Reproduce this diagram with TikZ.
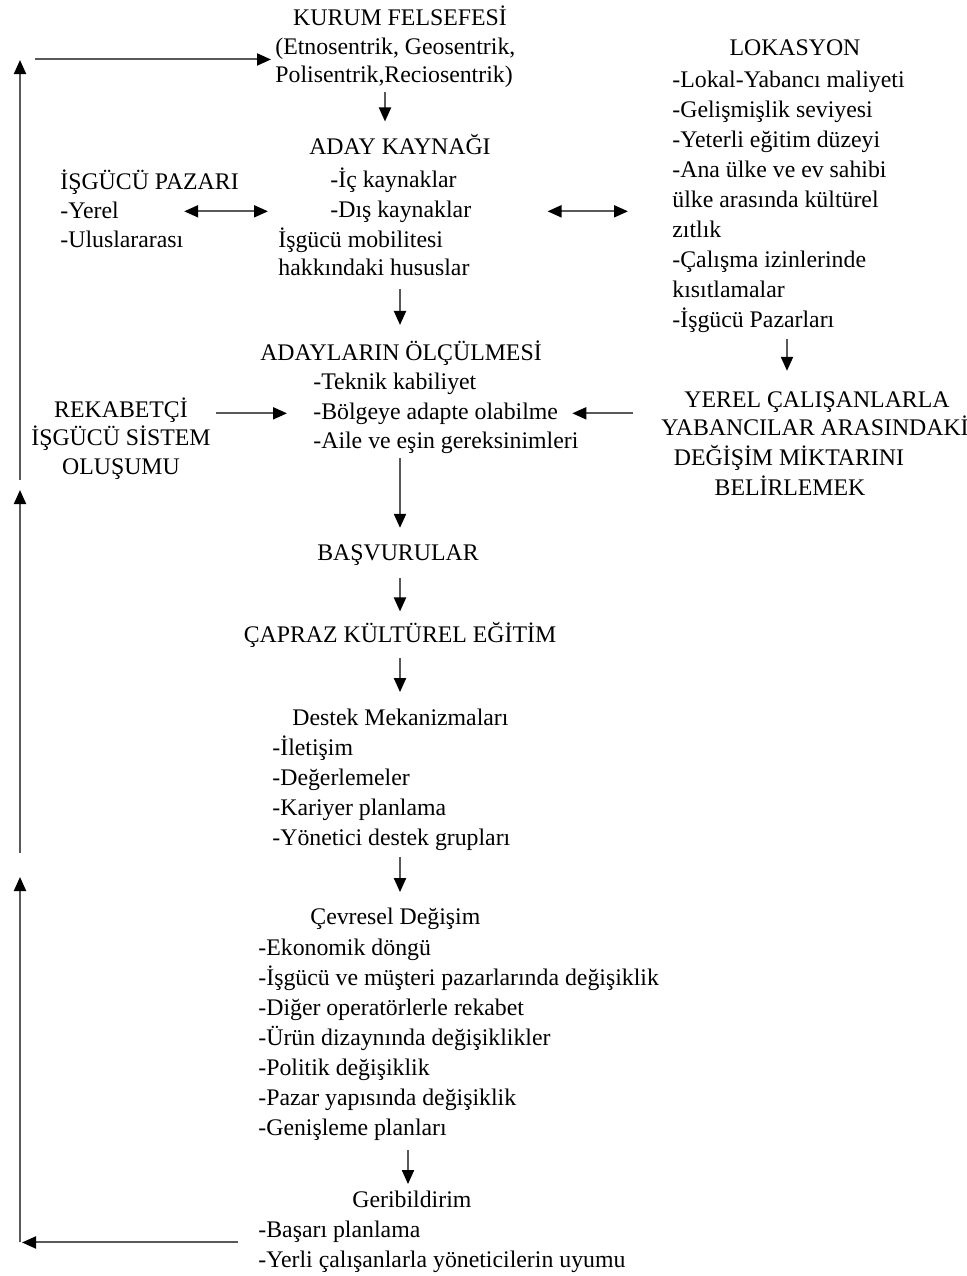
\documentclass[tikz,border=0pt]{standalone}
\usepackage{fontspec}
\setmainfont{Liberation Serif}
\usepackage{tikz}
\usetikzlibrary{arrows.meta}
\tikzset{>={Triangle[length=7pt,width=6pt,color=black]}}
\tikzstyle{txt}=[inner sep=0pt,anchor=base west]
\tikzstyle{ctxt}=[inner sep=0pt,anchor=base]
\tikzstyle{flow}=[->,draw=black!65,line width=1pt]
\tikzstyle{dflow}=[<->,draw=black!65,line width=1pt]

\begin{document}
\begin{tikzpicture}[x=0.5pt,y=-0.5pt,font=\fontsize{11.9pt}{15pt}\selectfont]

            \useasboundingbox (0,0) rectangle (967,1276);
            \coordinate (axisK) at (385,0); % arrow columns
            \coordinate (axis)  at (400,0);
            \coordinate (axisG) at (408,0);
            \coordinate (axisR) at (787,0);
            \coordinate (loopX) at (20,0); % feedback line

            % KURUM FELSEFESI
            \node[ctxt] (kf1) at (400,25) {KURUM FELSEFESİ};
            \node[txt]  (kf2) at (275,54) {(Etnosentrik, Geosentrik,};
            \node[txt]  (kf3) at (275,82) {Polisentrik,Reciosentrik)};

            % ADAY KAYNAGI
            \node[ctxt] (ak1) at (400,154) {ADAY KAYNAĞI};
            \node[txt]  (ak2) at (330,187) {-İç kaynaklar};
            \node[txt]  (ak3) at (330,217) {-Dış kaynaklar};
            \node[txt]  (ak4) at (278,247) {İşgücü mobilitesi};
            \node[txt]  (ak5) at (278,275) {hakkındaki hususlar};

            % ISGUCU PAZARI
            \node[txt] (ip1) at (60,189) {İŞGÜCÜ PAZARI};
            \node[txt] (ip2) at (60,218) {-Yerel};
            \node[txt] (ip3) at (60,247) {-Uluslararası};

            % LOKASYON
            \node[ctxt] (lk0) at (795,55) {LOKASYON};
            \foreach \t [count=\i] in {-Lokal-Yabancı maliyeti,-Gelişmişlik seviyesi,
              -Yeterli eğitim düzeyi,-Ana ülke ve ev sahibi,ülke arasında kültürel,zıtlık,
              -Çalışma izinlerinde,kısıtlamalar,-İşgücü Pazarları}{
              \node[txt] (lk\i) at (672,57+30*\i) {\t};
            }

            % YEREL CALISANLAR
            \node[ctxt] (yr1) at (817,407) {YEREL ÇALIŞANLARLA};
            \node[ctxt] (yr2) at (815,435) {YABANCILAR ARASINDAKİ};
            \node[ctxt] (yr3) at (789,465) {DEĞİŞİM MİKTARINI};
            \node[ctxt] (yr4) at (790,495) {BELİRLEMEK};

            % ADAYLARIN OLCULMESI
            \node[ctxt] (ao0) at (401,360) {ADAYLARIN ÖLÇÜLMESİ};
            \foreach \t [count=\i] in {-Teknik kabiliyet,-Bölgeye adapte olabilme,
              -Aile ve eşin gereksinimleri}{
              \node[txt] (ao\i) at (313,360+29.5*\i) {\t};
            }

            % REKABETCI
            \node[ctxt] (rk1) at (121,417) {REKABETÇİ};
            \node[ctxt] (rk2) at (121,445) {İŞGÜCÜ SİSTEM};
            \node[ctxt] (rk3) at (121,474) {OLUŞUMU};

            % MAIN CHAIN
            \node[ctxt] (bs) at (398,560) {BAŞVURULAR};
            \node[ctxt] (ck) at (400,642) {ÇAPRAZ KÜLTÜREL EĞİTİM};

            \node[txt] (dm0) at (292,725) {Destek Mekanizmaları};
            \foreach \t [count=\i] in {-İletişim,-Değerlemeler,-Kariyer planlama,
              -Yönetici destek grupları}{
              \node[txt] (dm\i) at (272,725+30*\i) {\t};
            }

            \node[txt] (cd0) at (310,924) {Çevresel Değişim};
            \foreach \t [count=\i] in {-Ekonomik döngü,-İşgücü ve müşteri pazarlarında değişiklik,
              -Diğer operatörlerle rekabet,-Ürün dizaynında değişiklikler,-Politik değişiklik,
              -Pazar yapısında değişiklik,-Genişleme planları}{
              \node[txt] (cd\i) at (258,925+30*\i) {\t};
            }

            \node[txt] (gb0) at (352,1207) {Geribildirim};
            \node[txt] (gb1) at (258,1237) {-Başarı planlama};
            \node[txt] (gb2) at (258,1267) {-Yerli çalışanlarla yöneticilerin uyumu};

            % DOWN ARROWS
            \draw[flow,shorten <=2.5pt,shorten >=6pt] (kf3.south -| axisK) -- (axisK |- ak1.north);
            \draw[flow,shorten <=6.5pt,shorten >=7.5pt] (ak5.south -| axis) -- (axis |- ao0.north);
            \draw[flow,shorten <=2pt,shorten >=8pt] (ao3.south -| axis) -- (axis |- bs.north);
            \draw[flow,shorten <=6.5pt,shorten >=5pt] (bs.south -| axis) -- (axis |- ck.north);
            \draw[flow,shorten <=5.5pt,shorten >=8pt] (ck.south -| axis) -- (axis |- dm0.north);
            \draw[flow,shorten <=3pt,shorten >=7.5pt] (dm4.south -| axis) -- (axis |- cd0.north);
            \draw[flow,shorten <=5pt,shorten >=3pt] (cd7.south -| axisG) -- (axisG |- gb0.north);
            \draw[flow,shorten <=3pt,shorten >=10pt] (lk9.south -| axisR) -- (axisR |- yr1.north);

            % SIDE ARROWS
            \draw[dflow,shorten <=32.5pt,shorten >=31pt] (ak3.west -| ip2.east) -- (ak3.west);
            \draw[dflow,shorten <=38pt,shorten >=22pt] (ak3.east) -- (ak3.east -| lk5.west);
            \draw[flow,shorten <=14pt,shorten >=13pt] (ao2.west -| rk1.east) -- (ao2.west);
            \draw[flow,shorten <=25.5pt,shorten >=7pt] (ao2.east -| yr1.west) -- (ao2.east);

            % FEEDBACK LOOP
            \coordinate (loopB) at (gb1.south -| loopX);
            \coordinate (loopM) at (20,865);
            \coordinate (loopN) at (20,485);
            \coordinate (loopT) at (20,60);
            \draw[flow,shorten <=10pt,shorten >=1pt] (gb1.south west) -- (loopB);
            \draw[flow,shorten >=6pt] (loopB) -- (loopM);
            \draw[flow,shorten <=6pt,shorten >=2.5pt] (loopM) -- (loopN);
            \draw[flow,shorten <=2.5pt] (loopN) -- (loopT);
            \draw[flow,shorten <=7.5pt,shorten >=2pt] (kf2.south west -| loopT) -- (kf2.south west);

\end{tikzpicture}
\end{document}
